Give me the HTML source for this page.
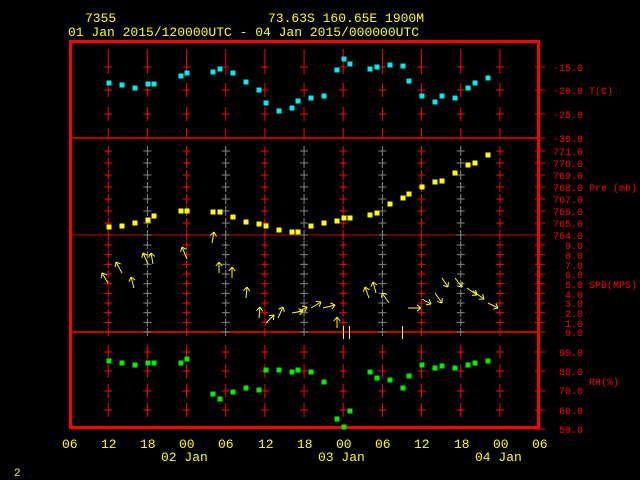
<!DOCTYPE html>
<html><head><meta charset="utf-8"><style>
html,body{margin:0;padding:0;background:#000;width:640px;height:480px;overflow:hidden}
svg{display:block}
text{font-family:"Liberation Mono",monospace}
</style></head><body>
<svg id="s" width="640" height="480" xmlns="http://www.w3.org/2000/svg">
<rect width="640" height="480" fill="#000"/>
<g fill="#ff0" font-size="13">
<text x="85" y="22">7355</text>
<text x="268" y="22">73.63S  160.65E  1900M</text>
<text x="68" y="36">01 Jan 2015/120000UTC - 04 Jan 2015/000000UTC</text>
<text x="62" y="448">06</text><text x="101" y="448">12</text><text x="140" y="448">18</text><text x="179" y="448">00</text><text x="218" y="448">06</text><text x="258" y="448">12</text><text x="297" y="448">18</text><text x="336" y="448">00</text><text x="375" y="448">06</text><text x="414" y="448">12</text><text x="454" y="448">18</text><text x="493" y="448">00</text><text x="532" y="448">06</text>
<text x="161" y="461">02 Jan</text><text x="318" y="461">03 Jan</text><text x="475" y="461">04 Jan</text>
<text x="14" y="476" font-size="11">2</text>
</g>
<g fill="#f00" font-size="10" text-anchor="end">
<text x="583" y="71">-15.0</text><text x="583" y="94">-20.0</text><text x="583" y="118">-25.0</text><text x="583" y="142">-30.0</text>
<text x="583" y="155">771.0</text><text x="583" y="167">770.0</text><text x="583" y="179">769.0</text><text x="583" y="191">768.0</text><text x="583" y="203">767.0</text><text x="583" y="215">766.0</text><text x="583" y="227">765.0</text><text x="583" y="239">764.0</text>
<text x="583" y="249">9.0</text><text x="583" y="259">8.0</text><text x="583" y="269">7.0</text><text x="583" y="278">6.0</text><text x="583" y="288">5.0</text><text x="583" y="298">4.0</text><text x="583" y="307">3.0</text><text x="583" y="317">2.0</text><text x="583" y="327">1.0</text><text x="583" y="336">0.0</text>
<text x="583" y="356">90.0</text><text x="583" y="375">80.0</text><text x="583" y="394">70.0</text><text x="583" y="414">60.0</text><text x="583" y="433">50.0</text>
</g>
<g fill="#f00" font-size="10">
<text x="589" y="94">T(C)</text><text x="589" y="191">Pre (mb)</text><text x="589" y="288">SPD(MPS)</text><text x="589" y="385">RH(%)</text>
</g>
<g id="g"></g>
</svg>
<script>
var g=document.getElementById('g'),o='';
function L(x1,y1,x2,y2,c,w){o+='<line x1="'+x1+'" y1="'+y1+'" x2="'+x2+'" y2="'+y2+'" stroke="'+c+'" stroke-width="'+(w||1)+'"/>';}
function P(x,y,c){o+='<rect x="'+(x-2.5)+'" y="'+(y-2.5)+'" width="5" height="5" fill="'+c+'"/>';}
var R='#f00',G='#888';
// lines
L(69,138,540,138,R,1.5);L(69,332,540,332,R,1.5);L(69,235,540,235,'#b00',1);
var lev=[];
[67,90,114].forEach(function(y){lev.push([y,7,'T'])});
for(var i=0;i<8;i++)lev.push([151+i*12,5,'P']);
for(var i=0;i<10;i++)lev.push([245+i*9.67,4,'S']);
[352,371,391,410].forEach(function(y){lev.push([y,7,'R'])});
for(var k=0;k<11;k++){var x=108.2+39.17*k;
 L(x,49,x,60,R);L(x,128,x,138,R);
 lev.forEach(function(l){var c=R; if((l[2]=='P'||l[2]=='S')&&k%2==1)c=G; L(x,l[0]-l[1],x,l[0]+l[1],c);L(x-4,l[0],x+4,l[0],c);});
}
lev.concat([[138],[332],[429]]).forEach(function(l){L(535,l[0],545,l[0],R);});
// frame
o+='<rect x="70.5" y="41.5" width="468" height="386" fill="none" stroke="'+R+'" stroke-width="3"/>';
var T=[[109,83],[122,85],[135,88],[148,84],[154,84],[181,76],[187,73],[213,72],[220,69],[233,73],[246,82],[259,90],[266,103],[279,111],[292,108],[298,101],[311,98],[324,96],[337,70],[344,59],[350,64],[370,69],[377,67],[390,65],[403,66],[409,81],[422,96],[435,102],[442,96],[455,98],[468,88],[475,83],[488,78]];
T.forEach(function(p){P(p[0],p[1],'#0ee')});
var Pr=[[109,227],[122,226],[135,223],[148,220],[154,216],[181,211],[187,211],[213,212],[220,212],[233,217],[246,222],[259,224],[266,226],[279,230],[292,232],[298,232],[311,226],[324,223],[337,221],[344,218],[350,218],[370,215],[377,213],[390,204],[403,198],[409,194],[422,187],[435,182],[442,181],[455,173],[468,165],[475,163],[488,155]];
Pr.forEach(function(p){P(p[0],p[1],'#ff0')});
var RH=[[109,361],[122,363],[135,365],[148,363],[154,363],[181,363],[187,359],[213,394],[220,399],[233,392],[246,388],[259,390],[266,370],[279,370],[292,372],[298,370],[311,372],[324,382],[337,419],[344,427],[350,411],[370,372],[377,378],[390,380],[403,388],[409,376],[422,365],[435,368],[442,366],[455,368],[468,365],[475,363],[488,361]];
RH.forEach(function(p){P(p[0],p[1],'#0e0')});
var W=[[108,283,102,273],[122,273,116,262],[134,288,131,277],[148,264,143,253],[153,264,151,253],[187,259,182,247],[212,243,214,232],[219,273,219,262],[232,278,232,267],[246,298,247,287],[259,318,260,307],[266,323,274,315],[278,318,283,307],[292,313,303,311],[298,312,307,307],[311,308,321,302],[323,308,335,305],[337,328,337,317],[369,298,365,287],[376,293,373,282],[389,303,382,293],[408,308,421,308],[422,299,431,304],[435,293,442,303],[442,278,448,287],[455,278,462,287],[467,288,477,295],[473,291,484,299],[488,303,498,308]];
W.forEach(function(w){var dx=w[2]-w[0],dy=w[3]-w[1],l=Math.hypot(dx,dy),ux=dx/l,uy=dy/l,a=4;
 L(w[0],w[1],w[2],w[3],'#ff0');
 L(w[2],w[3],w[2]-a*ux+a*0.8*uy,w[3]-a*uy-a*0.8*ux,'#ff0');
 L(w[2],w[3],w[2]-a*ux-a*0.8*uy,w[3]-a*uy+a*0.8*ux,'#ff0');});
L(343.5,326,343.5,339,'#ff0');L(349.5,326,349.5,339,'#ff0');L(402.5,326,402.5,339,'#ff0');
g.innerHTML=o;
</script>
</body></html>
